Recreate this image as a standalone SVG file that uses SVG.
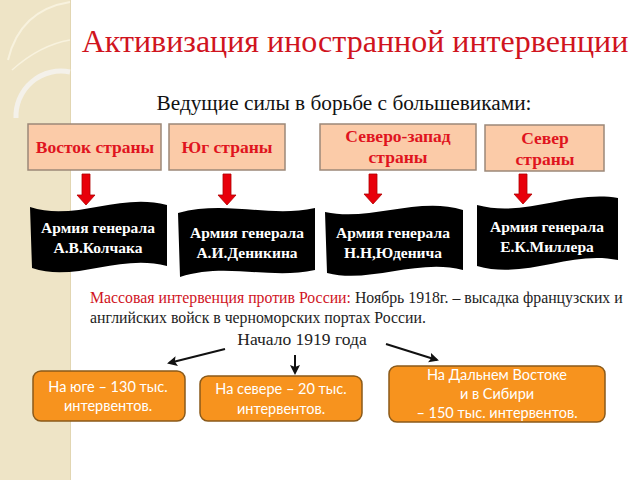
<svg xmlns="http://www.w3.org/2000/svg" width="640" height="480" viewBox="0 0 640 480">
<defs>
<style>
.title{font-family:"Liberation Serif","DejaVu Serif","Times New Roman",serif;font-size:32px;fill:#D0141E}
.sub{font-family:"Liberation Serif","DejaVu Serif","Times New Roman",serif;font-size:21.3px;fill:#111}
.reg rect{fill:#FBCBA8;stroke:#9C8878;stroke-width:1.5}
.reg text{font-family:"Liberation Serif","DejaVu Serif","Times New Roman",serif;font-weight:bold;font-size:17.5px;fill:#E0141E;text-anchor:middle}
.ban path{fill:#000}
.ban text{font-family:"Liberation Serif","DejaVu Serif","Times New Roman",serif;font-weight:bold;font-size:15.5px;fill:#fff;text-anchor:middle}
.ra{fill:#E8000A;stroke:#B00000;stroke-width:0.8}
.para{font-family:"Liberation Serif","DejaVu Serif","Times New Roman",serif;font-size:15.8px;fill:#222}
.ob rect{fill:#F7931E;stroke:#8A5A1A;stroke-width:1.5}
.ob text{font-family:Lato,"Open Sans",sans-serif;font-size:14.5px;fill:#fff;text-anchor:middle}
.conn line{stroke:#111;stroke-width:2}
</style>
<marker id="ah" markerWidth="10" markerHeight="10" refX="8" refY="5" orient="auto" markerUnits="userSpaceOnUse">
<path d="M0,0 L10,5 L0,10 L2,5 Z" fill="#111"/>
</marker>
</defs>
<rect width="640" height="480" fill="#fff"/>
<g id="strip">
<rect x="0" y="0" width="70" height="480" fill="#EEE4C6"/>
<line x1="70.5" y1="0" x2="70.5" y2="480" stroke="#E2D6B2" stroke-width="1"/>
<path d="M8,60 Q20,10 70,2" fill="none" stroke="#F8F2DE" stroke-width="2"/>
<path d="M12,70 Q40,45 70,40" fill="none" stroke="#F8F2DE" stroke-width="1.5"/>
<path d="M70,72 A45,45 0 0 0 16,118" fill="none" stroke="#F4F1EA" stroke-width="5"/>
</g>
<text class="title" x="355" y="52" text-anchor="middle">Активизация иностранной интервенции</text>
<text class="sub" x="344" y="110" text-anchor="middle">Ведущие силы в борьбе с большевиками:</text>

<g id="r1" class="reg"><rect x="28" y="124" width="133" height="46"/><text x="95" y="153">Восток страны</text></g>
<g id="r2" class="reg"><rect x="169" y="124" width="116" height="46"/><text x="227" y="153">Юг страны</text></g>
<g id="r3" class="reg"><rect x="320" y="124" width="156" height="46"/><text x="398" y="142">Северо-запад</text><text x="398" y="163">страны</text></g>
<g id="r4" class="reg"><rect x="485" y="125" width="119" height="46"/><text x="545" y="144">Север</text><text x="545" y="165">страны</text></g>

<g id="arrows-red">
<path class="ra" d="M82,174 H90 V195 H95 L86,205 L77,195 H82 Z"/>
<path class="ra" d="M223,174 H231 V195 H236 L227,205 L218,195 H223 Z"/>
<path class="ra" d="M369,174 H377 V194 H382 L373,204 L364,194 H369 Z"/>
<path class="ra" d="M519,174 H527 V194 H532 L523,204 L514,194 H519 Z"/>
</g>

<g id="b1" class="ban"><path d="M30,207 C75,222 120,192 167,205 L167,266 C120,253 75,283 32,268 Z"/><text x="98" y="233">Армия генерала</text><text x="98" y="253">А.В.Колчака</text></g>
<g id="b2" class="ban"><path d="M178,213 C225,200 270,218 315,208 L315,270 C270,280 225,262 180,277 Z"/><text x="247" y="238">Армия генерала</text><text x="247" y="258">А.И.Деникина</text></g>
<g id="b3" class="ban"><path d="M325,212 C370,222 418,196 463,210 L463,270 C418,258 370,284 327,273 Z"/><text x="393" y="238">Армия генерала</text><text x="393" y="258">Н.Н,Юденича</text></g>
<g id="b4" class="ban"><path d="M477,205 C525,218 570,190 618,198 L618,260 C570,250 525,280 477,266 Z"/><text x="547" y="232">Армия генерала</text><text x="547" y="252">Е.К.Миллера</text></g>

<text class="para" x="90" y="303"><tspan fill="#D0141E">Массовая интервенция против России:</tspan> Ноябрь 1918г. – высадка французских и</text>
<text class="para" x="90" y="323">английских войск в черноморских портах России.</text>
<text class="para" x="302" y="345" text-anchor="middle" style="font-size:17.5px">Начало 1919 года</text>

<g id="connectors" class="conn">
<line x1="225" y1="349" x2="169" y2="363" marker-end="url(#ah)"/>
<line x1="295" y1="355" x2="295" y2="373" marker-end="url(#ah)"/>
<line x1="386" y1="344" x2="437" y2="360" marker-end="url(#ah)"/>
</g>

<g id="o1" class="ob"><rect x="33" y="371" width="152" height="50" rx="8"/><text x="108" y="392">На юге – 130 тыс.</text><text x="108" y="411">интервентов.</text></g>
<g id="o2" class="ob"><rect x="200" y="376" width="162" height="45" rx="8"/><text x="281" y="394">На севере – 20 тыс.</text><text x="281" y="414">интервентов.</text></g>
<g id="o3" class="ob"><rect x="389" y="366" width="216" height="56" rx="8"/><text x="497" y="380">На Дальнем Востоке</text><text x="497" y="399">и в Сибири</text><text x="497" y="418">– 150 тыс. интервентов.</text></g>
</svg>
